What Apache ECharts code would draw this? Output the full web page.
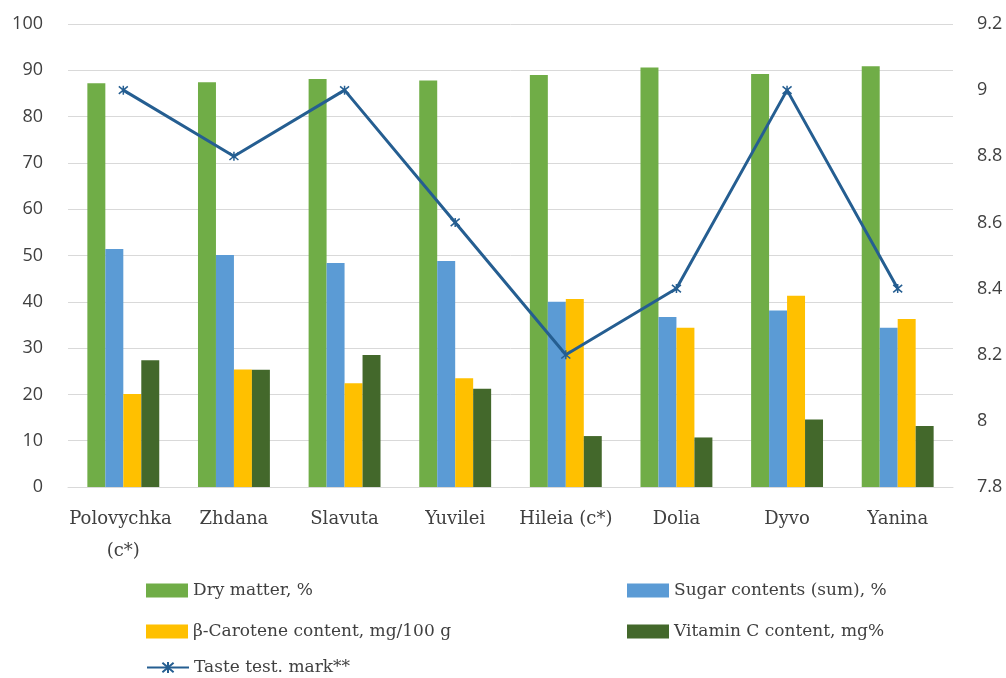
<!DOCTYPE html>
<html>
<head>
<meta charset="utf-8">
<script src="https://cdn.jsdelivr.net/npm/echarts@6/dist/echarts.min.js"></script>
<style>
  html, body { margin: 0; padding: 0; background: #fff; }
  #chart { width: 1006px; height: 678px; }
</style>
</head>
<body>
<div id="chart"></div>
<script>
// Cultivars
const categories = ['Polovychka (c*)', 'Zhdana', 'Slavuta', 'Yuvilei', 'Hileia (c*)', 'Dolia', 'Dyvo', 'Yanina'];

// Left axis series
const dryMatter = [87.2, 87.4, 88.1, 87.8, 89.0, 90.6, 89.2, 90.9];
const sugarContents = [51.4, 50.1, 48.4, 48.8, 40.0, 36.7, 38.1, 34.4];
const caroteneContent = [20.1, 25.4, 22.4, 23.5, 40.6, 34.4, 41.3, 36.3];
const vitaminC = [27.4, 25.3, 28.5, 21.2, 11.0, 10.7, 14.6, 13.2];

// Right axis series
const tasteMark = [9.0, 8.8, 9.0, 8.6, 8.2, 8.4, 9.0, 8.4];

const seriesNames = [
  'Dry matter, %',
  'Sugar contents (sum), %',
  'β-Carotene content, mg/100 g',
  'Vitamin C content, mg%',
  'Taste test. mark**'
];

const colors = ['#70AD47', '#5B9BD5', '#FFC000', '#43682B', '#255E91'];

const serifFont = '"DejaVu Serif", serif';
const sansFont = '"Open Sans", sans-serif';

// Asterisk marker drawn as stroked strokes
const asterisk = 'path://M0,0L10,10M10,0L0,10M5,-1L5,11';

const chart = echarts.init(document.getElementById('chart'), null, { renderer: 'canvas' });

function barSeries(idx, data) {
  return {
    name: seriesNames[idx],
    type: 'bar',
    yAxisIndex: 0,
    data: data,
    barGap: '0%',
    barCategoryGap: '35%',
    itemStyle: { color: colors[idx] },
    emphasis: { disabled: true }
  };
}

const legendText = { fontFamily: serifFont, fontSize: 17, color: '#404040' };

// One legend entry per block: [series index, left, vertical centre]
const legendSlots = [
  [0, 146, 593],
  [1, 627, 593],
  [2, 146, 634],
  [3, 627, 634],
  [4, 146, 670]
];

const legends = legendSlots.map(([idx, x, cy]) => ({
  left: x,
  top: cy - 11,
  padding: 0,
  itemWidth: 42,
  itemHeight: 14,
  icon: idx < 4 ? 'rect' : undefined,
  data: [seriesNames[idx]],
  textStyle: legendText,
  selectedMode: false
}));

chart.setOption({
  animation: false,
  color: colors,
  grid: { left: 68, right: 53, top: 24, bottom: 191, containLabel: false },
  legend: legends,
  xAxis: {
    type: 'category',
    data: categories,
    axisLine: { show: true, lineStyle: { color: '#D9D9D9', width: 1 } },
    axisTick: { show: false },
    axisLabel: {
      interval: 0,
      margin: 16,
      width: 110,
      overflow: 'break',
      lineHeight: 32,
      fontFamily: serifFont,
      fontSize: 18,
      color: '#404040'
    }
  },
  yAxis: [
    {
      type: 'value',
      min: 0,
      max: 100,
      interval: 10,
      axisLine: { show: false },
      axisTick: { show: false },
      splitLine: { lineStyle: { color: '#D9D9D9', width: 1 } },
      axisLabel: { margin: 25, fontFamily: sansFont, fontSize: 18, color: '#404040' }
    },
    {
      type: 'value',
      min: 7.8,
      max: 9.2,
      interval: 0.2,
      axisLine: { show: false },
      axisTick: { show: false },
      splitLine: { show: false },
      axisLabel: {
        margin: 24,
        fontFamily: sansFont,
        fontSize: 18,
        color: '#404040',
        formatter: v => String(+v.toFixed(1))
      }
    }
  ],
  series: [
    barSeries(0, dryMatter),
    barSeries(1, sugarContents),
    barSeries(2, caroteneContent),
    barSeries(3, vitaminC),
    {
      name: seriesNames[4],
      type: 'line',
      yAxisIndex: 1,
      data: tasteMark,
      symbol: asterisk,
      symbolSize: 9,
      showSymbol: true,
      lineStyle: { color: colors[4], width: 3 },
      itemStyle: { color: 'rgba(0,0,0,0)', borderColor: colors[4], borderWidth: 1.5 },
      emphasis: { disabled: true },
      z: 5
    }
  ]
});
</script>
</body>
</html>
